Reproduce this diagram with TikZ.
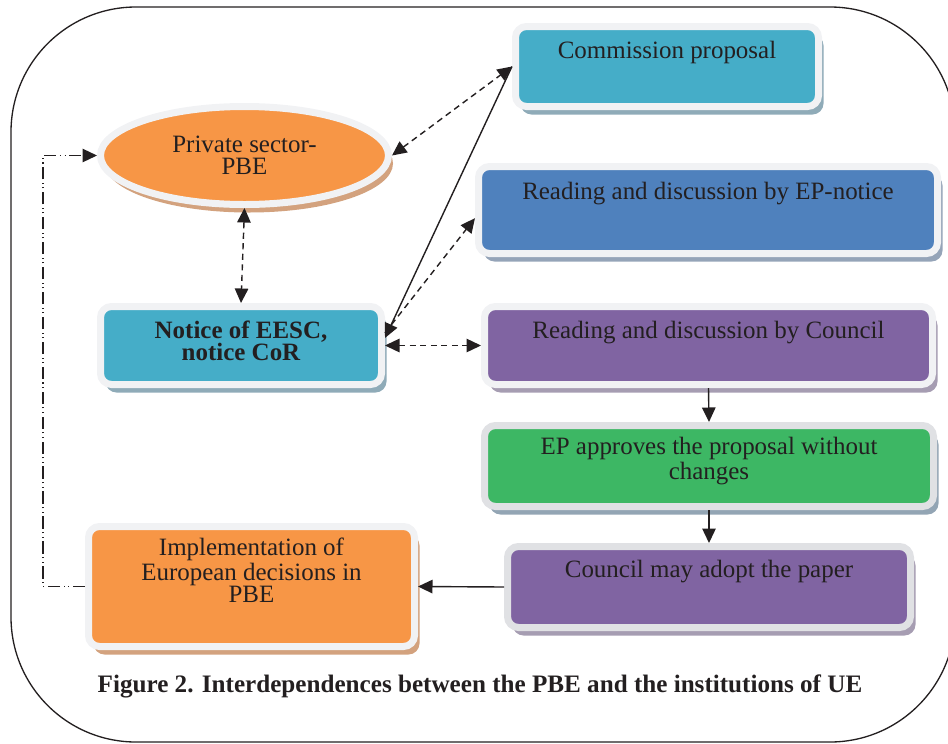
\documentclass[tikz,border=0pt]{standalone}
\usepackage{fontspec}
\setmainfont{Liberation Serif}
\usepackage{tikz}
\usetikzlibrary{positioning,arrows.meta,shapes.geometric,shadows}
\definecolor{tinta}{HTML}{231F20}
\definecolor{aqua}{HTML}{45ADC8}
\definecolor{azul}{HTML}{4F81BD}
\definecolor{morado}{HTML}{8064A2}
\definecolor{verde}{HTML}{3DB764}
\definecolor{naranja}{HTML}{F79646}
\definecolor{borde}{HTML}{F1F2F4}
\definecolor{bordeb}{HTML}{E0E1E4}
\definecolor{sombraaqua}{HTML}{8FABB8}
\definecolor{sombraazul}{HTML}{95A4B8}
\definecolor{sombramorado}{HTML}{A69DB2}
\definecolor{sombraverde}{HTML}{93A5B4}
\definecolor{sombranaranja}{HTML}{D3A27E}
\tikzset{
  bloque/.style 2 args={draw=borde,line width=1.4mm,fill=#1,rounded corners=2.2mm,
    drop shadow={shadow xshift=1.0mm,shadow yshift=-1.6mm,fill=#2,opacity=1},
    align=center,text=tinta,font=\fontsize{14.2}{12.5}\selectfont,inner ysep=0pt},
  elipse/.style 2 args={ellipse,draw=borde,line width=1.4mm,fill=#1,
    drop shadow={shadow xshift=0.9mm,shadow yshift=-1.6mm,fill=#2,opacity=1},
    align=center,text=tinta,font=\fontsize{14.2}{12.5}\selectfont,inner sep=0pt},
  conector/.style={-{Triangle[length=2.9mm,width=2.7mm]},line width=0.8pt,draw=tinta},
  conectord/.style={{Triangle[length=2.9mm,width=2.7mm]}-{Triangle[length=2.9mm,width=2.7mm]},
    line width=0.8pt,draw=tinta,dash pattern=on 3.5pt off 2.5pt},
  retorno/.style={-{Triangle[length=2.9mm,width=2.7mm]},line width=0.7pt,draw=tinta,
    dash pattern=on 7pt off 2pt on 0.6pt off 2pt on 0.6pt off 2pt},
}
\begin{document}
\begin{tikzpicture}
  \useasboundingbox (0,0) rectangle (18.96,-14.86);
  \draw[line width=0.75pt,tinta,rounded corners=2.5cm] (0.22,-0.14) rectangle (19.1,-14.84);
  % cajas de la derecha
  \node[bloque={aqua}{sombraaqua},minimum width=6.06cm,text height=0.63cm,text depth=0.97cm] (comm) at (13.34,-1.33) {Commission proposal};
  \node[bloque={azul}{sombraazul},minimum width=9.18cm,text height=0.65cm,text depth=1.09cm] (epn) at (14.16,-4.2) {Reading and discussion by EP-notice};
  \node[bloque={morado}{sombramorado},minimum width=8.96cm,text height=0.63cm,text depth=0.93cm] (crd) at (14.17,-6.91) {Reading and discussion by Council};
  \node[bloque={verde}{sombraverde},draw=bordeb,minimum width=8.98cm,text height=1.07cm,text depth=0.55cm] (epa) at (14.18,-9.32) {EP approves the proposal without\\changes};
  \node[bloque={morado}{sombramorado},draw=bordeb,minimum width=8.06cm,text height=0.61cm,text depth=1.01cm] (cma) at (14.18,-11.74) {Council may adopt the paper};
  % lado izquierdo
  \node[elipse={naranja}{sombranaranja},minimum width=5.76cm,minimum height=1.96cm] (priv) at (4.89,-3.11) {Private sector-\\PBE};
  \node[bloque={aqua}{sombraaqua},font=\bfseries\fontsize{14.2}{12.5}\selectfont,minimum width=5.62cm,text height=1.07cm,text depth=0.49cm] (notice) at (4.82,-6.91) {Notice of EESC,\\notice CoR};
  \node[bloque={naranja}{sombranaranja},minimum width=6.52cm,text height=1.51cm,text depth=0.89cm] (impl) at (5.03,-11.73) {Implementation of\\European decisions in\\PBE};
  \node[anchor=base,text=tinta,font=\bfseries\fontsize{14.3}{16}\selectfont] (titulo) at (9.6,-13.84) {Figure 2. Interdependences between the PBE and the institutions of UE};
  % conectores
  \draw[conectord] (priv.east) -- (comm.west);
  \draw[conector] (comm.west) -- (notice.3);
  \draw[conector,dash pattern=on 3.5pt off 2.5pt] (notice.5) -- (epn.182);
  \draw[conectord] (notice.east) -- (crd.west);
  \draw[conectord] (priv.south) -- (notice.north);
  \draw[conector] (crd.south) -- (epa.north);
  \draw[conector] (epa.south) -- (cma.north);
  \draw[conector] (cma.west) -- (impl.east);
  \draw[retorno] (impl.west) -- ++(-0.84,0) |- (priv.west);
\end{tikzpicture}
\end{document}
